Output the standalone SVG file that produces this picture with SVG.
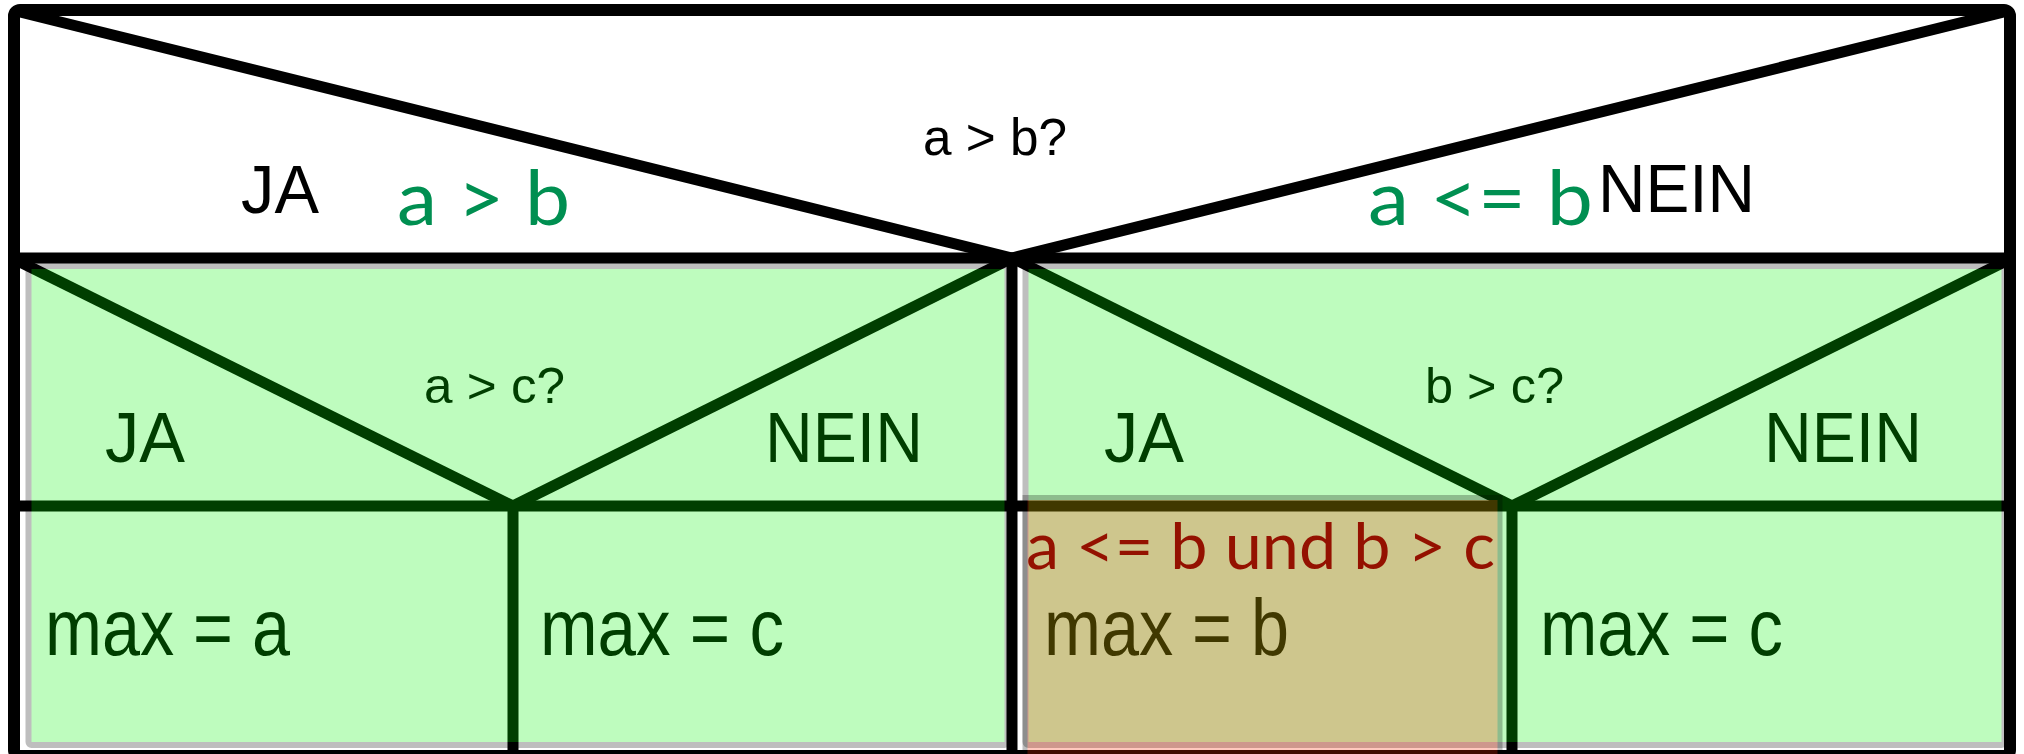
<svg xmlns="http://www.w3.org/2000/svg" width="2024" height="754" viewBox="0 0 2024 754">
<style>
.ln{stroke:#000;stroke-width:11;fill:none}
.frame{stroke:#000;stroke-width:12;fill:#fff}
.t{font-family:"Liberation Sans",Arial,sans-serif;fill:#000}
.g{font-family:Lato,"Open Sans",sans-serif;fill:#008F51}
.r{font-family:Lato,"Open Sans",sans-serif;fill:#941100}
.ovg{fill:#00f500;stroke:#000;stroke-width:6}
.ovr{fill:rgb(255,40,0);stroke:#000;stroke-width:5}
</style>
<rect width="2024" height="754" fill="#fff"/>
<g id="connectors">
<rect class="frame" x="14" y="10" width="1996" height="746" rx="6"/>
<line class="ln" x1="14" y1="258" x2="2010" y2="258"/>
<line class="ln" x1="16" y1="11" x2="1012" y2="258"/>
<line class="ln" x1="2008" y1="11" x2="1012" y2="258"/>
<line class="ln" x1="1012" y1="258" x2="1012" y2="760"/>
<line class="ln" x1="16" y1="260" x2="513" y2="506"/>
<line class="ln" x1="1012" y1="258" x2="513" y2="506"/>
<line class="ln" x1="1012" y1="258" x2="1512" y2="506"/>
<line class="ln" x1="2008" y1="260" x2="1512" y2="506"/>
<line class="ln" x1="14" y1="506" x2="2010" y2="506"/>
<line class="ln" x1="513" y1="506" x2="513" y2="760"/>
<line class="ln" x1="1512" y1="506" x2="1512" y2="760"/>
</g>
<g id="node-ab">
<text class="t" x="923" y="155" font-size="52" textLength="144" lengthAdjust="spacingAndGlyphs">a &gt; b?</text>
<text class="t" x="241" y="213" font-size="68" textLength="78" lengthAdjust="spacingAndGlyphs">JA</text>
<text class="t" x="1598" y="212" font-size="68" textLength="157" lengthAdjust="spacingAndGlyphs">NEIN</text>
</g>
<g id="node-ac">
<text class="t" x="424" y="403" font-size="50" textLength="141" lengthAdjust="spacingAndGlyphs">a &gt; c?</text>
<text class="t" x="105" y="462" font-size="70" textLength="80" lengthAdjust="spacingAndGlyphs">JA</text>
<text class="t" x="765" y="462" font-size="70" textLength="158" lengthAdjust="spacingAndGlyphs">NEIN</text>
</g>
<g id="node-bc">
<text class="t" x="1425" y="403" font-size="50" textLength="139" lengthAdjust="spacingAndGlyphs">b &gt; c?</text>
<text class="t" x="1104" y="462" font-size="70" textLength="80" lengthAdjust="spacingAndGlyphs">JA</text>
<text class="t" x="1764" y="462" font-size="70" textLength="158" lengthAdjust="spacingAndGlyphs">NEIN</text>
</g>
<g id="node-max-a"><text class="t" x="45" y="655" font-size="80" textLength="245" lengthAdjust="spacingAndGlyphs">max = a</text></g>
<g id="node-max-c1"><text class="t" x="540" y="655" font-size="80" textLength="244" lengthAdjust="spacingAndGlyphs">max = c</text></g>
<g id="node-max-b"><text class="t" x="1044" y="655" font-size="80" textLength="245" lengthAdjust="spacingAndGlyphs">max = b</text></g>
<g id="node-max-c2"><text class="t" x="1540" y="655" font-size="80" textLength="243" lengthAdjust="spacingAndGlyphs">max = c</text></g>
<g id="overlay-green-left" opacity="0.25"><rect class="ovg" x="28.5" y="266" width="979" height="479" rx="3"/></g>
<g id="overlay-green-right" opacity="0.25"><rect class="ovg" x="1025.5" y="266" width="979" height="479" rx="3"/></g>
<g id="overlay-red" opacity="0.25"><rect class="ovr" x="1025" y="497.5" width="475" height="300"/></g>
<g id="label-a-gt-b"><text class="g" x="397" y="225" font-size="76" textLength="173" lengthAdjust="spacingAndGlyphs">a &gt; b</text></g>
<g id="label-a-le-b"><text class="g" x="1368" y="225" font-size="76" textLength="225" lengthAdjust="spacingAndGlyphs">a &lt;= b</text></g>
<g id="label-cond"><text class="r" x="1026" y="569" font-size="64" textLength="469" lengthAdjust="spacingAndGlyphs">a &lt;= b und b &gt; c</text></g>
</svg>
